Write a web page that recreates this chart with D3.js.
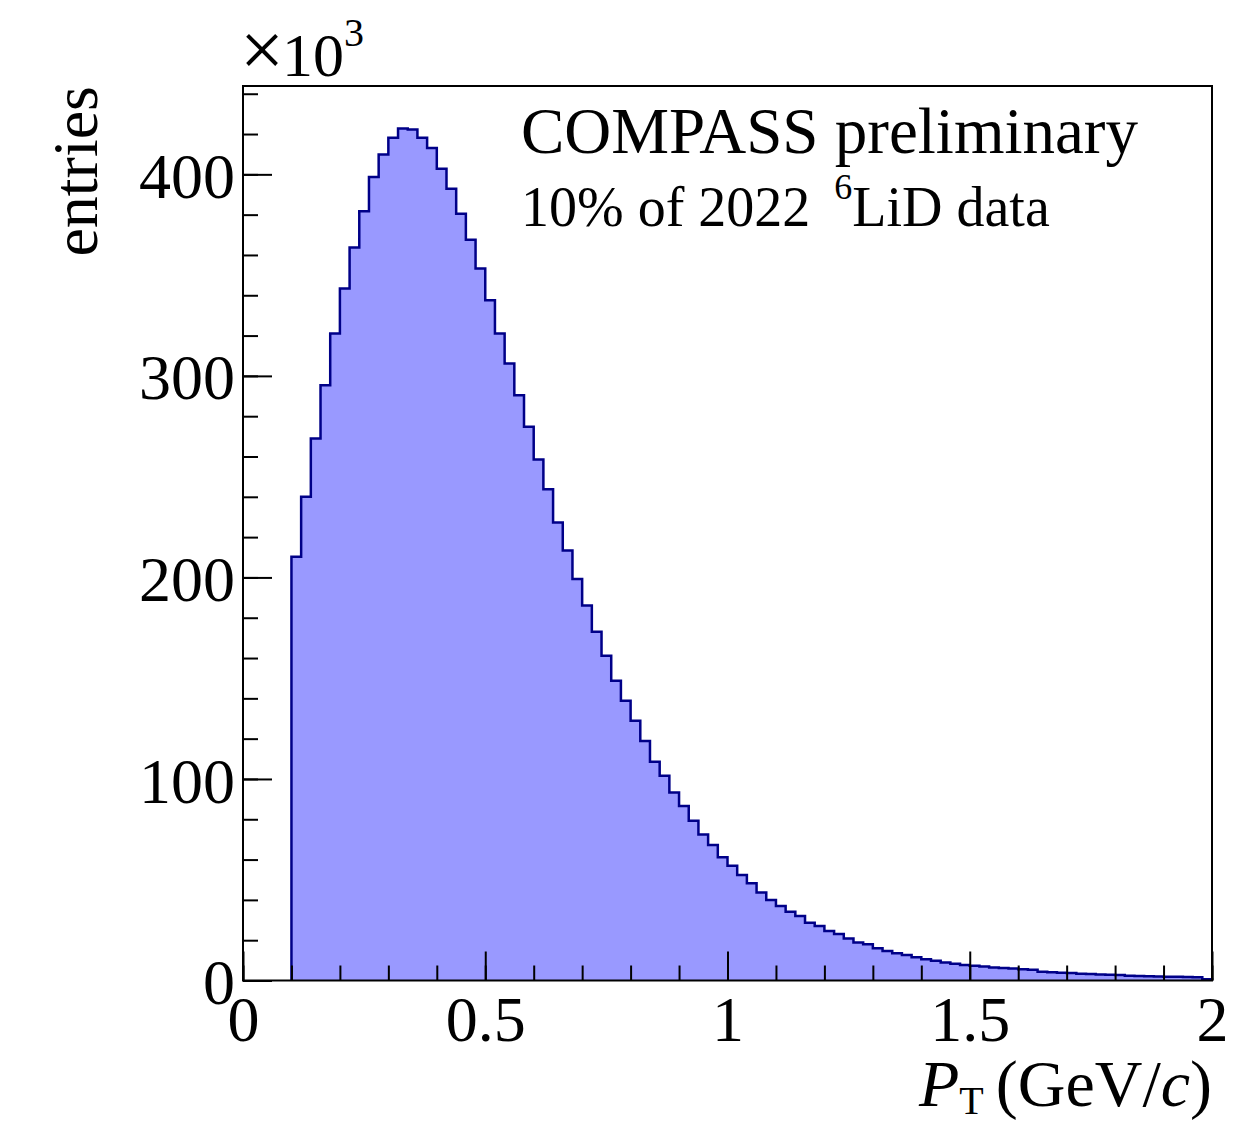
<!DOCTYPE html>
<html>
<head>
<meta charset="utf-8">
<script src="https://cdn.jsdelivr.net/npm/d3@7"></script>
<style>
  html, body { margin: 0; padding: 0; background: #fff; }
  svg { display: block; }
  text { font-family: "Liberation Serif", "Times New Roman", serif; fill: #000; }
</style>
</head>
<body>
<svg id="chart" width="1256" height="1127"></svg>
<script>
// ---- data (entries in units of 10^3, bins of width 0.02 GeV/c from 0.1 to 2.0) ----
const binStart = 0.1;
const binWidth = 0.02;
const entriesK = [
  210.2, 240.0, 268.9, 295.4, 321.0, 343.3, 363.7, 381.7, 398.7, 409.8,
  418.1, 422.7, 422.2, 418.1, 413.1, 402.8, 392.9, 380.5, 367.6, 353.3,
  337.5, 321.0, 306.1, 290.4, 274.7, 258.5, 243.8, 227.3, 213.4, 199.2,
  186.1, 173.0, 161.1, 148.7, 138.8, 128.9, 118.8, 108.5, 101.6, 93.3,
  86.6, 79.3, 72.5, 67.2, 61.1, 56.9, 52.3, 48.2, 43.7, 39.9,
  37.0, 34.1, 32.0, 28.7, 27.0, 24.6, 23.1, 20.9, 18.9, 18.0,
  16.0, 14.6, 13.5, 12.6, 11.5, 10.5, 9.8, 8.9, 8.3, 7.7,
  7.3, 6.9, 6.5, 6.2, 5.9, 5.6, 5.3, 4.4, 4.1, 3.9,
  3.7, 3.4, 3.2, 3.0, 2.8, 2.7, 2.4, 2.2, 2.1, 2.0,
  1.9, 1.8, 1.7, 1.6, 0.6
];
const xTickValues = [0, 0.5, 1, 1.5, 2];
const xTickLabels = ["0", "0.5", "1", "1.5", "2"];
const yTickValues = [0, 100, 200, 300, 400];
const yTickLabels = ["0", "100", "200", "300", "400"];
const textLines = ["COMPASS preliminary", "10% of 2022"];

// ---- layout ----
const svg = d3.select("#chart");
const L = 243, R = 1212, T = 86, B = 980.5;
const x = d3.scaleLinear().domain([0, 2]).range([L, R]);
const yMax = d3.max(entriesK) * 1.05;
const y = d3.scaleLinear().domain([0, yMax]).range([B, T]);

// ---- histogram ----
const pts = [];
entriesK.forEach((v, i) => {
  const x0 = binStart + i * binWidth, x1 = x0 + binWidth;
  pts.push([x0, v]); pts.push([x1, v]);
});
const area = d3.area().x(d => x(d[0])).y0(y(0)).y1(d => y(d[1]));
svg.append("path").datum(pts).attr("d", area).attr("fill", "#9999ff");

const outline = [[binStart, 0], ...pts, [binStart + entriesK.length * binWidth, 0]];
const line = d3.line().x(d => x(d[0])).y(d => y(d[1]));
svg.append("path").datum(outline).attr("d", line)
  .attr("fill", "none").attr("stroke", "#000088").attr("stroke-width", 2.5)
  .attr("stroke-linejoin", "miter");

// ---- axes ----
const xMinor = d3.range(0, 2.0001, 0.1);
const yMinor = d3.range(0, yMax, 20);

svg.append("g").attr("transform", `translate(0,${B})`)
  .call(d3.axisBottom(x).tickValues(xMinor).tickSizeInner(-15).tickSizeOuter(0).tickFormat(""));
const gx = svg.append("g").attr("transform", `translate(0,${B})`)
  .call(d3.axisBottom(x).tickValues(xTickValues).tickSizeInner(-29).tickSizeOuter(0)
    .tickFormat((d, i) => xTickLabels[i]));
gx.selectAll("text").attr("y", 60).attr("dy", "0").style("font-size", "64px");

svg.append("g").attr("transform", `translate(${L},0)`)
  .call(d3.axisLeft(y).tickValues(yMinor).tickSizeInner(-15).tickSizeOuter(0).tickFormat(""));
const gy = svg.append("g").attr("transform", `translate(${L},0)`)
  .call(d3.axisLeft(y).tickValues(yTickValues).tickSizeInner(-29).tickSizeOuter(0)
    .tickPadding(8).tickFormat((d, i) => yTickLabels[i]));
gy.selectAll("text").attr("dy", "0.36em").style("font-size", "64px");

svg.selectAll(".domain").remove();
svg.selectAll(".tick line").attr("stroke", "#000").attr("stroke-width", 2);
svg.selectAll(".tick text").attr("font-family", null);

// frame
svg.append("rect").attr("x", L).attr("y", T).attr("width", R - L).attr("height", B - T)
  .attr("fill", "none").attr("stroke", "#000").attr("stroke-width", 2);

// ---- titles ----
svg.append("text").attr("transform", "translate(97,86) rotate(-90)")
  .attr("text-anchor", "end").style("font-size", "64px").text("entries");

const mult = svg.append("text").attr("x", 240).attr("y", 76).style("font-size", "62px");
mult.append("tspan").style("font-size", "78px").text("\u00d7");
mult.append("tspan").attr("dx", -2).text("10");
mult.append("tspan").attr("dy", -30).style("font-size", "40px").text("3");

const xt = svg.append("text").attr("x", 1212).attr("y", 1106)
  .attr("text-anchor", "end").style("font-size", "66px");
xt.append("tspan").style("font-style", "italic").text("P");
xt.append("tspan").attr("dy", 8).style("font-size", "40px").text("T");
xt.append("tspan").attr("dy", -8).attr("dx", 12).text("(GeV/");
xt.append("tspan").style("font-style", "italic").text("c");
xt.append("tspan").text(")");

// ---- label text ----
svg.append("text").attr("x", 521).attr("y", 153).style("font-size", "65px").text(textLines[0]);
const t2 = svg.append("text").attr("x", 521).attr("y", 226).style("font-size", "56px");
t2.append("tspan").text(textLines[1]);
t2.append("tspan").attr("dx", 24).attr("dy", -27).style("font-size", "36px").text("6");
t2.append("tspan").attr("dy", 27).text("LiD data");
</script>
</body>
</html>
